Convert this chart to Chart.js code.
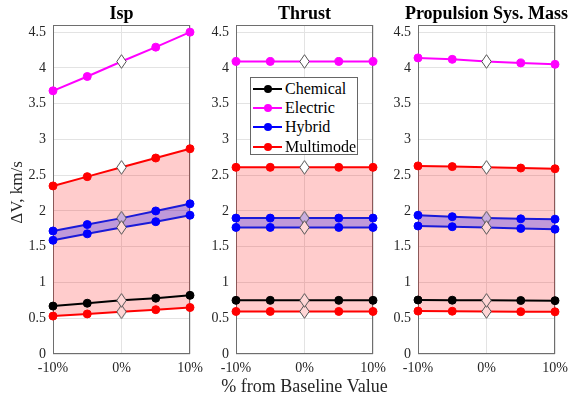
<!DOCTYPE html>
<html><head><meta charset="utf-8">
<script src="https://cdn.jsdelivr.net/npm/chart.js@4.4.0/dist/chart.umd.min.js"></script>
<style>
html,body{margin:0;padding:0;background:#fff;overflow:hidden}
#wrap{position:relative;width:569px;height:401px}
canvas{position:absolute;left:0;top:0}
#legend{position:absolute;left:250px;top:77px;width:108px;height:78px;border:1px solid #666;background:#fff;font-family:"Liberation Serif",serif;font-size:16px;color:#000;box-sizing:border-box}
.row{position:absolute;left:0;width:106px;height:19px;line-height:19px;white-space:nowrap}
.ln{position:absolute;left:2px;top:9px;width:29px;height:2px}
.dt{position:absolute;left:13px;top:6px;width:8px;height:8px;border-radius:50%}
.tx{position:absolute;left:34px;top:0}
</style></head>
<body>
<div id="wrap">
<canvas id="c0" width="569" height="401"></canvas>
<canvas id="c1" width="569" height="401"></canvas>
<canvas id="c2" width="569" height="401"></canvas>
<div id="legend"></div>
</div>
<script>
// ---- data ----
const xValues = [-10, -5, 0, 5, 10];
const panelTitles = ['Isp', 'Thrust', 'Propulsion Sys. Mass'];
const xAxisLabel = '% from Baseline Value';
const yAxisLabel = 'ΔV, km/s';
const seriesNames = ['Chemical', 'Electric', 'Hybrid', 'Multimode'];
const seriesColors = ['#000000', '#ff00ff', '#0000ff', '#ff0000'];
const yTickValues = [0, 0.5, 1, 1.5, 2, 2.5, 3, 3.5, 4, 4.5];
const xTickValues = [-10, 0, 10];

// Isp panel
const ispChemical   = [0.67, 0.71, 0.75, 0.78, 0.82];
const ispElectric   = [3.68, 3.88, 4.09, 4.29, 4.50];
const ispHybridHigh = [1.72, 1.81, 1.90, 2.00, 2.10];
const ispHybridLow  = [1.59, 1.68, 1.77, 1.85, 1.94];
const ispMultiHigh  = [2.35, 2.48, 2.61, 2.74, 2.87];
const ispMultiLow   = [0.53, 0.56, 0.59, 0.62, 0.65];
// Thrust panel
const thrChemical   = [0.75, 0.75, 0.75, 0.75, 0.75];
const thrElectric   = [4.09, 4.09, 4.09, 4.09, 4.09];
const thrHybridHigh = [1.90, 1.90, 1.90, 1.90, 1.90];
const thrHybridLow  = [1.77, 1.77, 1.77, 1.77, 1.77];
const thrMultiHigh  = [2.61, 2.61, 2.61, 2.61, 2.61];
const thrMultiLow   = [0.595, 0.595, 0.595, 0.595, 0.595];
// Propulsion system mass panel
const masChemical   = [0.755, 0.752, 0.75, 0.748, 0.746];
const masElectric   = [4.14, 4.12, 4.09, 4.07, 4.05];
const masHybridHigh = [1.94, 1.92, 1.90, 1.89, 1.885];
const masHybridLow  = [1.79, 1.78, 1.77, 1.755, 1.745];
const masMultiHigh  = [2.63, 2.62, 2.61, 2.60, 2.59];
const masMultiLow   = [0.60, 0.598, 0.595, 0.592, 0.59];

const panels = [
  {chem: ispChemical, elec: ispElectric, hybHi: ispHybridHigh, hybLo: ispHybridLow, mmHi: ispMultiHigh, mmLo: ispMultiLow},
  {chem: thrChemical, elec: thrElectric, hybHi: thrHybridHigh, hybLo: thrHybridLow, mmHi: thrMultiHigh, mmLo: thrMultiLow},
  {chem: masChemical, elec: masElectric, hybHi: masHybridHigh, hybLo: masHybridLow, mmHi: masMultiHigh, mmLo: masMultiLow}
];

// ---- styling ----
const FONT = '"Liberation Serif", "Times New Roman", serif';
function makeDiamond(fill) {
  const c = document.createElement('canvas');
  c.width = 11; c.height = 15;
  const g = c.getContext('2d');
  g.beginPath();
  g.moveTo(5.5, 0.7); g.lineTo(10.2, 7.5); g.lineTo(5.5, 14.3); g.lineTo(0.8, 7.5); g.closePath();
  g.fillStyle = fill; g.fill();
  g.strokeStyle = '#555'; g.lineWidth = 1; g.stroke();
  return c;
}
const diamondWhite = makeDiamond('#ffffff');
const diamondPink = makeDiamond('#ffd6d6');
const diamondPurple = makeDiamond('#c8aede');

function pts(arr) { return arr.map((v, i) => ({x: xValues[i], y: v})); }
function ds(label, arr, line, point, diamond, extra) {
  return Object.assign({
    label, data: pts(arr), borderColor: line, backgroundColor: point,
    pointBackgroundColor: point, pointBorderColor: point,
    borderWidth: 2, pointRadius: 4, pointBorderWidth: 1, fill: false, clip: false,
    pointStyle: c => c.dataIndex === 2 ? diamond : 'circle'
  }, extra || {});
}

const layouts = [
  {left: 0,   right: 379, yWidth: 53},
  {left: 196, right: 196, yWidth: 40},
  {left: 378, right: 14,  yWidth: 40}
];

const framePlugin = {
  id: 'frameTitle',
  beforeDatasetsDraw(chart) {
    const {ctx, chartArea: a} = chart;
    ctx.save();
    ctx.strokeStyle = '#6e6e6e'; ctx.lineWidth = 1;
    ctx.strokeRect(Math.round(a.left) + 0.5, Math.round(a.top) + 0.5,
      Math.round(a.right - a.left) - 1, Math.round(a.bottom - a.top) - 1);
    ctx.restore();
  },
  afterDraw(chart) {
    const {ctx, chartArea: a} = chart;
    const o = chart.options.plugins.panelText;
    ctx.save();
    ctx.font = 'bold 18px ' + FONT;
    ctx.fillStyle = '#000';
    ctx.textAlign = 'center'; ctx.textBaseline = 'alphabetic';
    ctx.fillText(o.title, (a.left + a.right) / 2, 19);
    if (o.xLabel) {
      ctx.font = '18px ' + FONT;
      ctx.fillStyle = '#262626';
      ctx.fillText(o.xLabel, (a.left + a.right) / 2, 392);
    }
    if (o.yLabel) {
      ctx.translate(18, (a.top + a.bottom) / 2 + 3);
      ctx.rotate(-Math.PI / 2);
      ctx.font = '17px ' + FONT;
      ctx.fillStyle = '#262626';
      ctx.textBaseline = 'middle';
      ctx.fillText(o.yLabel, 0, 0);
    }
    ctx.restore();
  }
};

panels.forEach((p, idx) => {
  const L = layouts[idx];
  const datasets = [
    ds(seriesNames[1], p.elec, '#ff00ff', '#ff00ff', diamondWhite),
    ds(seriesNames[0], p.chem, '#000000', '#000000', diamondPink),
    ds(seriesNames[2] + ' low', p.hybLo, '#1a1ad8', '#0000ff', diamondPink),
    ds(seriesNames[2] + ' high', p.hybHi, '#1a1ad8', '#0000ff', diamondPurple, {fill: '-1', backgroundColor: 'rgba(0,0,255,0.25)'}),
    ds(seriesNames[3] + ' low', p.mmLo, '#ff0000', '#ff0000', diamondPink),
    ds(seriesNames[3] + ' high', p.mmHi, '#ff0000', '#ff0000', diamondWhite, {fill: '-1', backgroundColor: 'rgba(255,0,0,0.2)'})
  ];
  new Chart(document.getElementById('c' + idx), {
    type: 'line',
    data: {datasets},
    plugins: [framePlugin],
    options: {
      responsive: false, animation: false, events: [],
      layout: {padding: {left: L.left, right: L.right, top: 25, bottom: 0}},
      plugins: {
        legend: {display: false}, tooltip: {enabled: false}, title: {display: false},
        panelText: {title: panelTitles[idx], xLabel: idx === 1 ? xAxisLabel : null, yLabel: idx === 0 ? yAxisLabel : null}
      },
      scales: {
        x: {
          type: 'linear', min: -10, max: 10,
          afterFit(s) { s.height = 47; s.paddingLeft = 0; s.paddingRight = 0; },
          afterBuildTicks(s) { s.ticks = xTickValues.map(v => ({value: v})); },
          ticks: {stepSize: 10, callback: v => v + '%', font: {family: FONT, size: 14}, color: '#262626', padding: 6, maxRotation: 0, autoSkip: false},
          grid: {color: '#e3e3e3', drawTicks: false},
          border: {display: false}
        },
        y: {
          min: 0, max: 4.6,
          afterFit(s) { s.width = L.yWidth; s.paddingTop = 0; s.paddingBottom = 0; },
          afterBuildTicks(s) { s.ticks = yTickValues.map(v => ({value: v})); },
          ticks: {stepSize: 0.5, includeBounds: false, callback: v => String(+v.toFixed(2)), font: {family: FONT, size: 14}, color: '#262626', padding: 7},
          grid: {color: '#e3e3e3', drawTicks: false},
          border: {display: false}
        }
      }
    }
  });
});

// ---- legend (inside Thrust panel) ----
const legend = document.getElementById('legend');
const rowTops = [0.5, 20, 39.3, 58.5];
seriesNames.forEach((name, i) => {
  const r = document.createElement('div');
  r.className = 'row'; r.style.top = rowTops[i] + 'px';
  r.innerHTML = '<span class="ln" style="background:' + seriesColors[i] + '"></span>' +
    '<span class="dt" style="background:' + seriesColors[i] + '"></span>' +
    '<span class="tx">' + name + '</span>';
  legend.appendChild(r);
});
</script>
</body></html>
